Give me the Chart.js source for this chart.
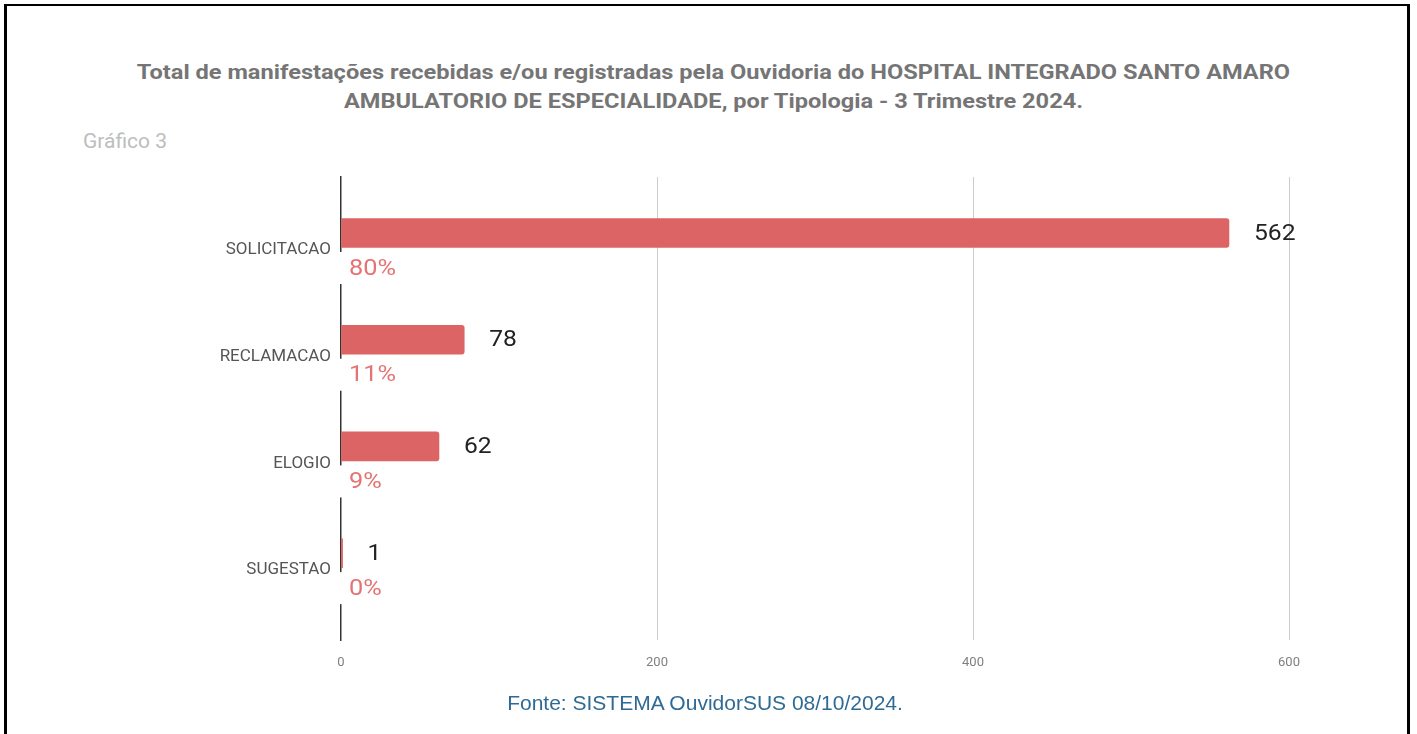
<!DOCTYPE html>
<html>
<head>
<meta charset="utf-8">
<script src="https://cdn.jsdelivr.net/npm/chart.js@4.4.1/dist/chart.umd.min.js"></script>
<style>
  html, body { margin: 0; padding: 0; background: #fff; }
  body { width: 1417px; height: 734px; position: relative; overflow: hidden; }
  #frame { position: absolute; left: 4px; top: 4px; width: 1400px; height: 740px;
           border-top: 2px solid #000; border-left: 3px solid #000; border-right: 3px solid #000; }
  #title { position: absolute; left: 0; top: 58px; width: 1427px; text-align: center;
           font-family: Roboto, sans-serif; font-weight: bold; font-size: 20px; line-height: 29px; color: #757575;
           transform: scaleX(1.18); transform-origin: 713.5px 0; }
  #sub { position: absolute; left: 83px; top: 127px; font-family: Roboto, sans-serif; font-size: 21px;
         line-height: 28px; color: #bdbdbd; }
  #foot { position: absolute; left: 0; top: 690px; width: 1410px; text-align: center;
          font-family: "Liberation Sans", Arial, sans-serif; font-size: 21px; line-height: 26px; color: #2f6a94; }
  #c { position: absolute; left: 0; top: 0; }
</style>
</head>
<body>
<div id="frame"></div>
<div id="title">Total de manifestações recebidas e/ou registradas pela Ouvidoria do HOSPITAL INTEGRADO SANTO AMARO<br>AMBULATORIO DE ESPECIALIDADE, por Tipologia - 3 Trimestre 2024.</div>
<div id="sub">Gráfico 3</div>
<canvas id="c" width="1417" height="734"></canvas>
<div id="foot">Fonte: SISTEMA OuvidorSUS 08/10/2024.</div>
<script>
const categories = ['SOLICITACAO', 'RECLAMACAO', 'ELOGIO', 'SUGESTAO'];
const values = [562, 78, 62, 1];
const percentLabels = ['80%', '11%', '9%', '0%'];
const xTicks = [0, 200, 400, 600];

const points = values.map((v, i) => ({ x: v, y: i }));

function stretchedText(ctx, text, x, y, sx) {
  ctx.save();
  ctx.translate(x, y);
  ctx.scale(sx, 1);
  ctx.fillText(text, 0, 0);
  ctx.restore();
}

const labelPlugin = {
  id: 'barLabels',
  afterDatasetsDraw(chart) {
    const ctx = chart.ctx;
    const meta = chart.getDatasetMeta(0);
    const axisX = chart.scales.x.getPixelForValue(0);
    ctx.save();
    ctx.textAlign = 'left';
    ctx.textBaseline = 'middle';
    meta.data.forEach((bar, i) => {
      ctx.font = '22px Roboto, sans-serif';
      ctx.fillStyle = '#222222';
      stretchedText(ctx, String(values[i]), bar.x + 25, bar.y + 1, 1.12);
      const py = bar.y + 35;
      const w = ctx.measureText(percentLabels[i]).width * 1.15;
      ctx.fillStyle = '#ffffff';
      ctx.fillRect(axisX - 2, py - 16, w + 12, 32);
      ctx.fillStyle = '#e57373';
      stretchedText(ctx, percentLabels[i], axisX + 8, py + 1, 1.15);
    });
    ctx.restore();
  }
};

new Chart(document.getElementById('c'), {
  type: 'bar',
  data: {
    datasets: [{
      data: points,
      backgroundColor: '#dd6464',
      borderRadius: 3,
      borderSkipped: 'start',
      barThickness: 29
    }]
  },
  options: {
    indexAxis: 'y',
    responsive: false,
    devicePixelRatio: 1,
    animation: false,
    layout: { padding: { top: 177, right: 128, bottom: 0, left: 0 } },
    plugins: { legend: { display: false }, tooltip: { enabled: false }, title: { display: false } },
    scales: {
      x: {
        type: 'linear',
        min: 0, max: 600,
        afterBuildTicks: s => { s.ticks = xTicks.map(v => ({ value: v })); },
        afterFit: s => { s.height = 94; },
        grid: {
          drawTicks: false,
          color: c => (c.tick && c.tick.value === 0) ? 'rgba(0,0,0,0)' : '#cccccc',
          lineWidth: 1
        },
        border: { display: false },
        ticks: { padding: 15, color: '#808080', font: { family: 'Roboto', size: 13 } }
      },
      y: {
        type: 'linear',
        offset: false,
        min: -0.525, max: 3.814,
        reverse: true,
        afterBuildTicks: s => { s.ticks = categories.map((c, i) => ({ value: i })); },
        afterFit: s => { s.width = 341; },
        grid: { display: false, drawTicks: false, offset: false },
        border: { display: true, color: '#333333', width: 1.5 },
        ticks: {
          padding: 10,
          labelOffset: 17,
          color: '#555555',
          font: { family: 'Roboto', size: 17 },
          callback: v => categories[v] ?? ''
        }
      }
    }
  },
  plugins: [labelPlugin]
});
</script>
</body>
</html>
